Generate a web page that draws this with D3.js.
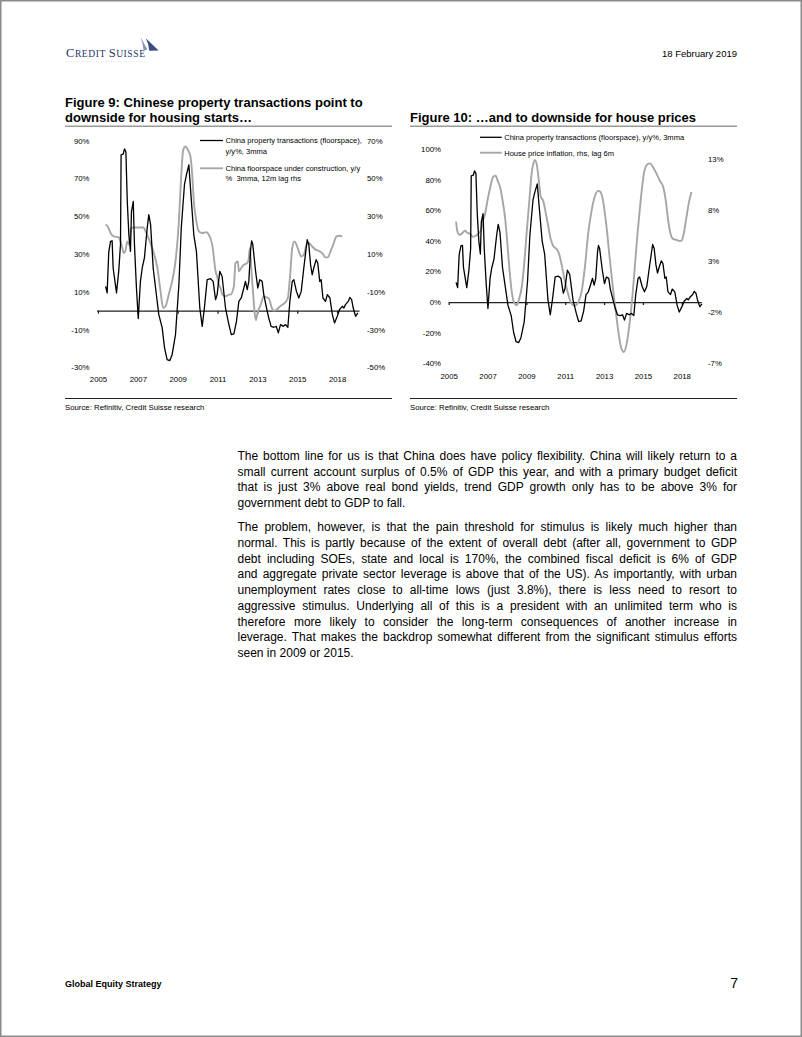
<!doctype html>
<html>
<head>
<meta charset="utf-8">
<title>Figure 9 / Figure 10 - China property</title>
<style>
  body { margin:0; background:#fff; }
  svg { display:block; font-family:"Liberation Sans", Arial, sans-serif; }
  .axis text { font-size:7.8px; fill:#000; font-family:"Liberation Sans", Arial, sans-serif; }
  .zero path, .zero line { stroke:#222; stroke-width:1.3px; }
  .black { fill:none; stroke:#000; stroke-width:1.3px; stroke-linejoin:round; }
  .grey { fill:none; stroke:#a6a6a6; stroke-width:1.9px; stroke-linejoin:round; }
  .leg { font-size:7.55px; white-space:pre; }
  .title { font-size:13px; font-weight:bold; }
  .body { font-size:12px; }
  .src { font-size:7.8px; }
</style>
<script src="https://cdn.jsdelivr.net/npm/d3@7"></script>
</head>
<body>
<svg id="page" width="802" height="1037"></svg>
<script>

// ---- data ----

// x axis: position in years, labels as printed
var yearTicks  = [2005, 2007, 2009, 2011, 2013, 2015, 2017]
var yearLabels = ["2005", "2007", "2009", "2011", "2013", "2015", "2018"]

// China property transactions (floorspace), y/y%, 3mma  (same series in both figures)
var txYears = [2005.38, 2005.46, 2005.54, 2005.63, 2005.71, 2005.76, 2005.93, 2006.04, 2006.13, 2006.16,
  2006.27, 2006.33, 2006.40, 2006.47, 2006.55, 2006.63, 2006.68, 2006.77, 2006.83, 2006.93,
  2007.02, 2007.13, 2007.22, 2007.33, 2007.47, 2007.55, 2007.64, 2007.77, 2007.89, 2008.05,
  2008.22, 2008.34, 2008.47, 2008.60, 2008.72, 2008.89, 2009.06, 2009.18, 2009.34, 2009.44,
  2009.56, 2009.69, 2009.81, 2009.94, 2010.11, 2010.23, 2010.34, 2010.48, 2010.65, 2010.78,
  2010.90, 2010.98, 2011.11, 2011.23, 2011.40, 2011.57, 2011.69, 2011.82, 2011.95, 2012.07,
  2012.19, 2012.32, 2012.40, 2012.49, 2012.57, 2012.66, 2012.71, 2012.77, 2012.91, 2013.02,
  2013.12, 2013.24, 2013.32, 2013.46, 2013.57, 2013.69, 2013.83, 2013.95, 2014.05, 2014.16,
  2014.30, 2014.41, 2014.53, 2014.63, 2014.75, 2014.83, 2014.96, 2015.08, 2015.20, 2015.33,
  2015.45, 2015.50, 2015.58, 2015.67, 2015.75, 2015.83, 2015.95, 2016.03, 2016.13, 2016.20,
  2016.29, 2016.42, 2016.51, 2016.64, 2016.76, 2016.87, 2017.01, 2017.12, 2017.26, 2017.34,
  2017.42, 2017.56, 2017.64, 2017.73, 2017.81, 2017.93, 2018.04]
var txValues = [12.9, 9.4, 31, 36.7, 37, 22.6, 9.4, 20.8, 35, 82.5,
  83, 85.7, 84, 57.8, 40, 31.4, 52.5, 57.8, 35, 12,
  -4.2, 15.5, 22.6, 27.9, 43.8, 50.8, 45.5, 22.6, 12, -2,
  -9, -19.7, -25.9, -26.5, -23.3, -12.7, 13.8, 43.8, 66.7, 72,
  77.2, 57.8, 40, 31.4, 1.4, -8.3, 1.4, 16.4, 16.9, 15.5,
  5.8, 8.5, 20.8, 18.1, 1.4, -7.4, -12.7, -12.3, -5.7, 4.9,
  6.7, 12, 15.5, 11.1, 15.5, 32.3, 37, 35, 20.8, 12,
  16.4, 15.5, 8.5, 1.4, -3.9, -8.3, -8.8, -8.3, -11.8, -7.4,
  -8.3, -7.4, -8.8, 4.9, 15.5, 16.4, 10.2, 6.7, 10.2, 22.6,
  33.2, 37.6, 35, 24.3, 19, 22.6, 27, 25.2, 15.5, 16.4,
  6.7, 4.9, 8.5, 6.7, -2, -6.5, -3, 0.5, 2.3, 1.4,
  3.2, 4.9, 7, 5.8, 1.4, -3, -1.2]

// China floorspace under construction, y/y% 3mma, 12m lag (rhs of figure 9)
var constrYears = [2005.38, 2005.49, 2005.63, 2005.79, 2006.04, 2006.18, 2006.30, 2006.38, 2006.47, 2006.55,
  2006.67, 2006.80, 2007.05, 2007.27, 2007.43, 2007.60, 2007.80, 2007.97, 2008.14, 2008.27,
  2008.39, 2008.55, 2008.72, 2008.89, 2009.06, 2009.18, 2009.28, 2009.39, 2009.51, 2009.64,
  2009.73, 2009.81, 2009.94, 2010.06, 2010.23, 2010.45, 2010.56, 2010.73, 2010.78, 2010.90,
  2010.98, 2011.06, 2011.15, 2011.25, 2011.40, 2011.57, 2011.65, 2011.82, 2011.90, 2012.02,
  2012.07, 2012.19, 2012.32, 2012.49, 2012.57, 2012.62, 2012.69, 2012.79, 2012.87, 2012.93,
  2013.01, 2013.16, 2013.32, 2013.46, 2013.57, 2013.74, 2013.83, 2013.96, 2014.16, 2014.41,
  2014.53, 2014.63, 2014.75, 2014.86, 2014.96, 2015.08, 2015.20, 2015.33, 2015.47, 2015.58,
  2015.75, 2015.92, 2016.08, 2016.25, 2016.42, 2016.54, 2016.67, 2016.81, 2016.97, 2017.14,
  2017.26]
var constrValues = [25.5, 24.6, 21.1, 19.3, 18.8, 15, 10.5, 11.7, 16.7, 15,
  23.8, 24, 24, 24, 21.1, 16.7, 10.5, 3.4, -9.8, -18.6,
  -17.7, -11.5, -4.5, 6.1, 27.2, 52, 65.2, 66.9, 65.2, 61.6,
  52, 37.8, 27.2, 22, 21.1, 21.6, 20.2, 15, 11.4, 1,
  -1.9, -6, -8, -11.5, -12.4, -11.5, -11.5, -7.1, 5.2, 6,
  0.8, 2.6, 4.3, 5.2, 8, 13.2, 2.6, -11.5, -22, -25,
  -21, -17, -12.5, -13, -13.5, -19, -20, -19.5, -17.5, -15.5,
  -13.3, -3, 13.2, 16.7, 15, 11.4, 8.7, 9.6, 15, 15.8,
  14, 12.3, 11.7, 10.5, 8.2, 8.2, 11.4, 15, 19.3, 19.7,
  19.3]

// House price inflation, rhs, lag 6m (rhs of figure 10)
var hpYears = [2005.38, 2005.44, 2005.55, 2005.67, 2005.84, 2005.96, 2006.10, 2006.23, 2006.40, 2006.52,
  2006.65, 2006.75, 2006.87, 2006.99, 2007.12, 2007.29, 2007.42, 2007.50, 2007.64, 2007.78,
  2007.90, 2008.01, 2008.12, 2008.24, 2008.36, 2008.50, 2008.62, 2008.76, 2008.87, 2009.01,
  2009.15, 2009.27, 2009.35, 2009.44, 2009.53, 2009.66, 2009.73, 2009.87, 2010.01, 2010.12,
  2010.25, 2010.38, 2010.55, 2010.69, 2010.81, 2010.98, 2011.15, 2011.33, 2011.50, 2011.67,
  2011.84, 2012.01, 2012.18, 2012.36, 2012.53, 2012.70, 2012.82, 2012.95, 2013.13, 2013.30,
  2013.47, 2013.64, 2013.78, 2013.90, 2014.02, 2014.16, 2014.33, 2014.47, 2014.58, 2014.72,
  2014.88, 2015.05, 2015.22, 2015.36, 2015.53, 2015.70, 2015.87, 2016.04, 2016.18, 2016.30,
  2016.42, 2016.55, 2016.73, 2016.86, 2016.98, 2017.10, 2017.24, 2017.38, 2017.50]
var hpValues = [6.9, 6.0, 5.6, 5.7, 6.0, 5.8, 5.7, 5.4, 5.5, 5.7,
  6.0, 6.9, 7.6, 8.9, 10.1, 11.3, 11.4, 11.0, 10.3, 8.9,
  7.3, 5.0, 2.4, 0.1, -1.0, -1.3, -0.7, 0.45, 2.4, 5.7,
  8.9, 11.6, 12.5, 12.9, 12.5, 10.6, 9.4, 8.9, 7.6, 6.5,
  5.2, 4.5, 4.2, 3.7, 2.7, 1.1, -0.2, -1.2, -1.35, -1.0,
  0, 2.4, 5.7, 8.0, 9.4, 9.9, 9.8, 8.9, 6.3, 3.1,
  0.1, -2.5, -4.5, -5.6, -5.9, -5.1, -2.8, -0.2, 2.4, 5.7,
  8.9, 11.6, 12.5, 12.6, 12.2, 11.6, 10.9, 10.3, 8.9, 7.0,
  5.7, 5.2, 5.1, 5.0, 5.0, 5.7, 7.3, 8.9, 9.8]

var fig9LeftTicks  = [-30, -10, 10, 30, 50, 70, 90]
var fig9RightTicks = [-50, -30, -10, 10, 30, 50, 70]
var fig10LeftTicks  = [-40, -20, 0, 20, 40, 60, 80, 100]
var fig10RightTicks = [-7, -2, 3, 8, 13]

var fig9Legend  = [["China property transactions (floorspace),", "y/y%, 3mma"],
                   ["China floorspace under construction, y/y", "%  3mma, 12m lag rhs"]]
var fig10Legend = [["China property transactions (floorspace), y/y%, 3mma"],
                   ["House price inflation, rhs, lag 6m"]]

var para1 = ["The bottom line for us is that China does have policy flexibility. China will likely return to a",
  "small current account surplus of 0.5% of GDP this year, and with a primary budget deficit",
  "that is just 3% above real bond yields, trend GDP growth only has to be above 3% for",
  "government debt to GDP to fall."]
var para2 = ["The problem, however, is that the pain threshold for stimulus is likely much higher than",
  "normal. This is partly because of the extent of overall debt (after all, government to GDP",
  "debt including SOEs, state and local is 170%, the combined fiscal deficit is 6% of GDP",
  "and aggregate private sector leverage is above that of the US). As importantly, with urban",
  "unemployment rates close to all-time lows (just 3.8%), there is less need to resort to",
  "aggressive stimulus. Underlying all of this is a president with an unlimited term who is",
  "therefore more likely to consider the long-term consequences of another increase in",
  "leverage. That makes the backdrop somewhat different from the significant stimulus efforts",
  "seen in 2009 or 2015."]

// ---- page ----

var svg = d3.select("#page")

svg.append("rect").attr("x", 0.75).attr("y", 0.75).attr("width", 800.5).attr("height", 1035.5)
   .attr("fill", "none").attr("stroke", "#8a8a8a").attr("stroke-width", 1.5)

// logo
var logo = svg.append("text").attr("x", 66).attr("y", 57.3)
   .attr("fill", "#26356a").attr("font-family", "'Liberation Serif', 'DejaVu Serif', serif")
   .attr("textLength", 79).attr("lengthAdjust", "spacing")
logo.append("tspan").attr("font-size", 12.5).text("C")
logo.append("tspan").attr("font-size", 9.6).text("REDIT ")
logo.append("tspan").attr("font-size", 12.5).text("S")
logo.append("tspan").attr("font-size", 9.6).text("UISSE")
svg.append("path").attr("d", "M140.5,37 L147.5,49.8 L143.6,50.3 Q142.8,43.5 140.5,37 Z").attr("fill", "#8895bb")
svg.append("path").attr("d", "M145.8,38.2 L158.6,50.6 L149.3,50.8 Q148.7,43.8 145.8,38.2 Z").attr("fill", "#3c4d80")
svg.append("line").attr("x1", 66).attr("x2", 145).attr("y1", 61.5).attr("y2", 61.5)
   .attr("stroke", "#d8dbe4").attr("stroke-width", 0.8).attr("stroke-dasharray", "1,1.5")

svg.append("text").attr("x", 737).attr("y", 57).attr("text-anchor", "end")
   .attr("font-size", 9.5).text("18 February 2019")

// figure titles
svg.append("text").attr("class", "title").attr("x", 65).attr("y", 107).text("Figure 9: Chinese property transactions point to")
svg.append("text").attr("class", "title").attr("x", 65).attr("y", 122).text("downside for housing starts\u2026")
svg.append("text").attr("class", "title").attr("x", 410).attr("y", 122).text("Figure 10: \u2026and to downside for house prices")
svg.append("line").attr("x1", 65).attr("x2", 392).attr("y1", 126.3).attr("y2", 126.3).attr("stroke", "#9a9a9a").attr("stroke-width", 1.5)
svg.append("line").attr("x1", 410).attr("x2", 737).attr("y1", 126.3).attr("y2", 126.3).attr("stroke", "#9a9a9a").attr("stroke-width", 1.5)

function chart(c) {
  var g = svg.append("g")
  var x  = d3.scaleLinear().domain(c.xDomain).range(c.xRange)
  var yL = d3.scaleLinear().domain(c.yLDomain).range(c.yLRange)
  var yR = d3.scaleLinear().domain(c.yRDomain).range(c.yRRange)

  // left and right value labels
  g.append("g").attr("class", "axis").attr("transform", "translate(" + c.leftX + ",0)")
   .call(d3.axisLeft(yL).tickValues(c.leftTicks).tickSize(0).tickPadding(0).tickFormat(function(d){ return d + "%" }))
   .call(function(a){ a.select(".domain").remove() })
  g.append("g").attr("class", "axis").attr("transform", "translate(" + c.rightX + ",0)")
   .call(d3.axisRight(yR).tickValues(c.rightTicks).tickSize(0).tickPadding(0).tickFormat(function(d){ return d + "%" }))
   .call(function(a){ a.select(".domain").remove() })

  // zero line with small ticks
  g.append("g").attr("class", "axis zero").attr("transform", "translate(0," + yL(0) + ")")
   .call(d3.axisBottom(x).tickValues(yearTicks).tickSize(3).tickSizeOuter(0).tickFormat(""))

  // year labels at bottom
  g.append("g").attr("class", "axis").attr("transform", "translate(0," + c.labelY + ")")
   .call(d3.axisBottom(x).tickValues(yearTicks).tickSize(0).tickPadding(0)
     .tickFormat(function(d, i){ return yearLabels[i] }))
   .call(function(a){ a.select(".domain").remove() })

  var greyLine = d3.line().x(function(d){ return x(d[0]) }).y(function(d){ return yR(d[1]) }).curve(d3.curveMonotoneX)
  var blackLine = d3.line().x(function(d){ return x(d[0]) }).y(function(d){ return yL(d[1]) })

  g.append("path").attr("class", "grey").datum(d3.zip(c.greyYears, c.greyValues)).attr("d", greyLine)
  g.append("path").attr("class", "black").datum(d3.zip(txYears, txValues)).attr("d", blackLine)

  // legend
  c.legend.forEach(function(item, i) {
    var ly = c.legY[i]
    g.append("line").attr("x1", c.legX[0]).attr("x2", c.legX[1]).attr("y1", ly).attr("y2", ly)
     .attr("stroke", i == 0 ? "#000" : "#a6a6a6").attr("stroke-width", i == 0 ? 1.3 : 1.9)
    item.forEach(function(t, j) {
      g.append("text").attr("class", "leg").attr("x", c.legX[1] + 2.5).attr("y", ly + 2.8 + j * 10.3).text(t)
    })
  })

  // rule and source under the chart
  g.append("line").attr("x1", c.ruleX[0]).attr("x2", c.ruleX[1]).attr("y1", 398.5).attr("y2", 398.5)
   .attr("stroke", "#222").attr("stroke-width", 1.1)
  g.append("text").attr("class", "src").attr("x", c.ruleX[0]).attr("y", 410).text("Source: Refinitiv, Credit Suisse research")
}

chart({
  xDomain: [2004.93, 2018.1], xRange: [96.6, 359],
  yLDomain: [-30, 90], yLRange: [367.3, 140.7],
  yRDomain: [-50, 70], yRRange: [367.3, 140.7],
  leftX: 89.5, rightX: 367, labelY: 376,
  leftTicks: fig9LeftTicks, rightTicks: fig9RightTicks,
  greyYears: constrYears, greyValues: constrValues,
  legend: fig9Legend, legX: [200, 223], legY: [140.5, 168.3],
  ruleX: [65, 392]
})

chart({
  xDomain: [2005, 2018], xRange: [448.7, 701.2],
  yLDomain: [-40, 100], yLRange: [363.3, 149],
  yRDomain: [-7, 13], yRRange: [363.3, 159.3],
  leftX: 441, rightX: 708, labelY: 373.3,
  leftTicks: fig10LeftTicks, rightTicks: fig10RightTicks,
  greyYears: hpYears, greyValues: hpValues,
  legend: fig10Legend, legX: [480, 501.7], legY: [137.3, 152.7],
  ruleX: [410, 737]
})

// body text, justified line by line
var textLeft = 237.5, textWidth = 499.5

function paragraph(lines, y0) {
  lines.forEach(function(line, i) {
    var t = svg.append("text").attr("class", "body").attr("x", textLeft).attr("y", y0 + i * 15.7).text(line)
    if (i < lines.length - 1) {
      var spaces = line.split(" ").length - 1
      var w = t.node().getComputedTextLength()
      t.attr("word-spacing", (textWidth - w) / spaces)
    }
  })
}
paragraph(para1, 460)
paragraph(para2, 531.3)

// footer
svg.append("text").attr("x", 65).attr("y", 987).attr("font-size", 9).attr("font-weight", "bold").text("Global Equity Strategy")
svg.append("text").attr("x", 738).attr("y", 988).attr("text-anchor", "end").attr("font-size", 14).text("7")

</script>
</body>
</html>
